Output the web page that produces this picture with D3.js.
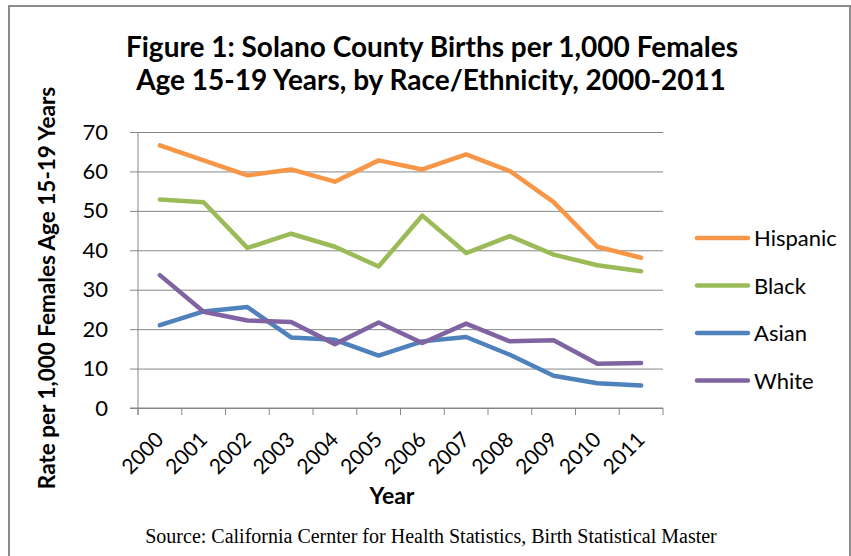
<!DOCTYPE html>
<html>
<head>
<meta charset="utf-8">
<script src="https://cdn.jsdelivr.net/npm/d3@7"></script>
<style>
  body { margin: 0; background: #fff; }
  svg text { font-family: Lato, "Open Sans", sans-serif; fill: #000; }
</style>
</head>
<body>
<div id="chart"></div>
<script>
// data
var years = ["2000","2001","2002","2003","2004","2005","2006","2007","2008","2009","2010","2011"];
var hispanic = [66.6, 62.8, 59.0, 60.5, 57.4, 62.8, 60.5, 64.3, 60.1, 52.2, 40.9, 38.1];
var black    = [52.9, 52.2, 40.6, 44.2, 40.9, 35.9, 48.8, 39.3, 43.6, 38.9, 36.2, 34.7];
var asian    = [21.0, 24.5, 25.6, 17.9, 17.3, 13.3, 16.9, 18.0, 13.5, 8.2, 6.3, 5.7];
var white    = [33.7, 24.4, 22.2, 21.8, 16.2, 21.7, 16.5, 21.4, 16.9, 17.2, 11.2, 11.4];
var seriesNames = ["Hispanic", "Black", "Asian", "White"];
var seriesColors = ["#f79646", "#9bbb59", "#4f81bd", "#8064a2"];
var yTicks = [0, 10, 20, 30, 40, 50, 60, 70];

var series = [hispanic, black, asian, white].map(function(vals, i){
  return { name: seriesNames[i], color: seriesColors[i], values: vals };
});

var width = 851, height = 556;
var plot = { left: 138, right: 663, top: 132, bottom: 408 };

var svg = d3.select("#chart").append("svg")
  .attr("width", width)
  .attr("height", height);

// outer frame
svg.append("rect")
  .attr("x", 9).attr("y", 6)
  .attr("width", 841).attr("height", 560)
  .attr("fill", "none")
  .attr("stroke", "#8c8c8c")
  .attr("stroke-width", 2);

var x = d3.scaleBand().domain(years).range([plot.left, plot.right]).padding(0);
var y = d3.scaleLinear().domain([0, 70]).range([plot.bottom, plot.top]);

// gridlines + y labels (ticks stick out 8px left of axis)
var gridAxis = d3.axisLeft(y)
  .tickValues(yTicks)
  .tickSize(-(plot.right - plot.left + 8))
  .tickPadding(22);
var gy = svg.append("g")
  .attr("transform", "translate(" + (plot.left - 8) + ",0)")
  .call(gridAxis);
gy.select(".domain").remove();
gy.selectAll(".tick line").attr("stroke", "#868686").attr("stroke-width", 1);
gy.selectAll(".tick text")
  .attr("font-size", 22)
  .attr("fill", "#000");

// y axis line
svg.append("line")
  .attr("x1", plot.left).attr("x2", plot.left)
  .attr("y1", plot.top).attr("y2", plot.bottom + 7)
  .attr("stroke", "#868686");

// x axis line with ticks on category boundaries
svg.append("line")
  .attr("x1", plot.left - 8).attr("x2", plot.right)
  .attr("y1", plot.bottom).attr("y2", plot.bottom)
  .attr("stroke", "#868686");
var bounds = years.map(function(d){ return x(d); }).concat([plot.right]);
svg.append("g").selectAll("line").data(bounds).join("line")
  .attr("x1", function(d){ return d; })
  .attr("x2", function(d){ return d; })
  .attr("y1", plot.bottom)
  .attr("y2", plot.bottom + 7)
  .attr("stroke", "#868686");

// x labels, rotated
var xAxis = d3.axisBottom(x).tickSize(0).tickPadding(0);
var gx = svg.append("g")
  .attr("transform", "translate(0," + plot.bottom + ")")
  .call(xAxis);
gx.select(".domain").remove();
gx.selectAll(".tick text")
  .attr("font-size", 21)
  .attr("fill", "#000")
  .attr("text-anchor", "end")
  .attr("dy", 0)
  .attr("y", 0)
  .attr("transform", "translate(5,33) rotate(-45)");

// lines
var line = d3.line()
  .x(function(d, i){ return x(years[i]) + x.bandwidth() / 2; })
  .y(function(d){ return y(d); });

svg.append("g").selectAll("path").data(series).join("path")
  .attr("d", function(s){ return line(s.values); })
  .attr("fill", "none")
  .attr("stroke", function(s){ return s.color; })
  .attr("stroke-width", 4.5)
  .attr("stroke-linejoin", "round")
  .attr("stroke-linecap", "round");

// legend
var legend = svg.append("g").selectAll("g").data(series).join("g")
  .attr("transform", function(s, i){ return "translate(697," + (238 + i * 47.5) + ")"; });
legend.append("line")
  .attr("x1", 0).attr("x2", 51)
  .attr("y1", 0).attr("y2", 0)
  .attr("stroke", function(s){ return s.color; })
  .attr("stroke-width", 4.5)
  .attr("stroke-linecap", "round");
legend.append("text")
  .attr("x", 57).attr("y", 8)
  .attr("font-size", 22)
  .text(function(s){ return s.name; });

// title
var title = svg.append("text")
  .attr("text-anchor", "middle")
  .attr("font-size", 28)
  .attr("font-weight", "bold");
title.append("tspan").attr("x", 432).attr("y", 57)
  .text("Figure 1: Solano County Births per 1,000 Females");
title.append("tspan").attr("x", 431).attr("y", 90)
  .text("Age 15-19 Years, by Race/Ethnicity,  2000-2011");

// axis titles
svg.append("text")
  .attr("transform", "translate(55,288) rotate(-90)")
  .attr("text-anchor", "middle")
  .attr("font-size", 22.5)
  .attr("font-weight", "bold")
  .text("Rate per 1,000 Females Age 15-19 Years");

svg.append("text")
  .attr("x", 392).attr("y", 504)
  .attr("text-anchor", "middle")
  .attr("font-size", 23)
  .attr("font-weight", "bold")
  .text("Year");

// source note
svg.append("text")
  .attr("x", 431).attr("y", 543)
  .attr("text-anchor", "middle")
  .attr("font-size", 20)
  .style("font-family", "'Liberation Serif', 'Times New Roman', serif")
  .text("Source: California Cernter for Health Statistics, Birth Statistical Master");
</script>
</body>
</html>
